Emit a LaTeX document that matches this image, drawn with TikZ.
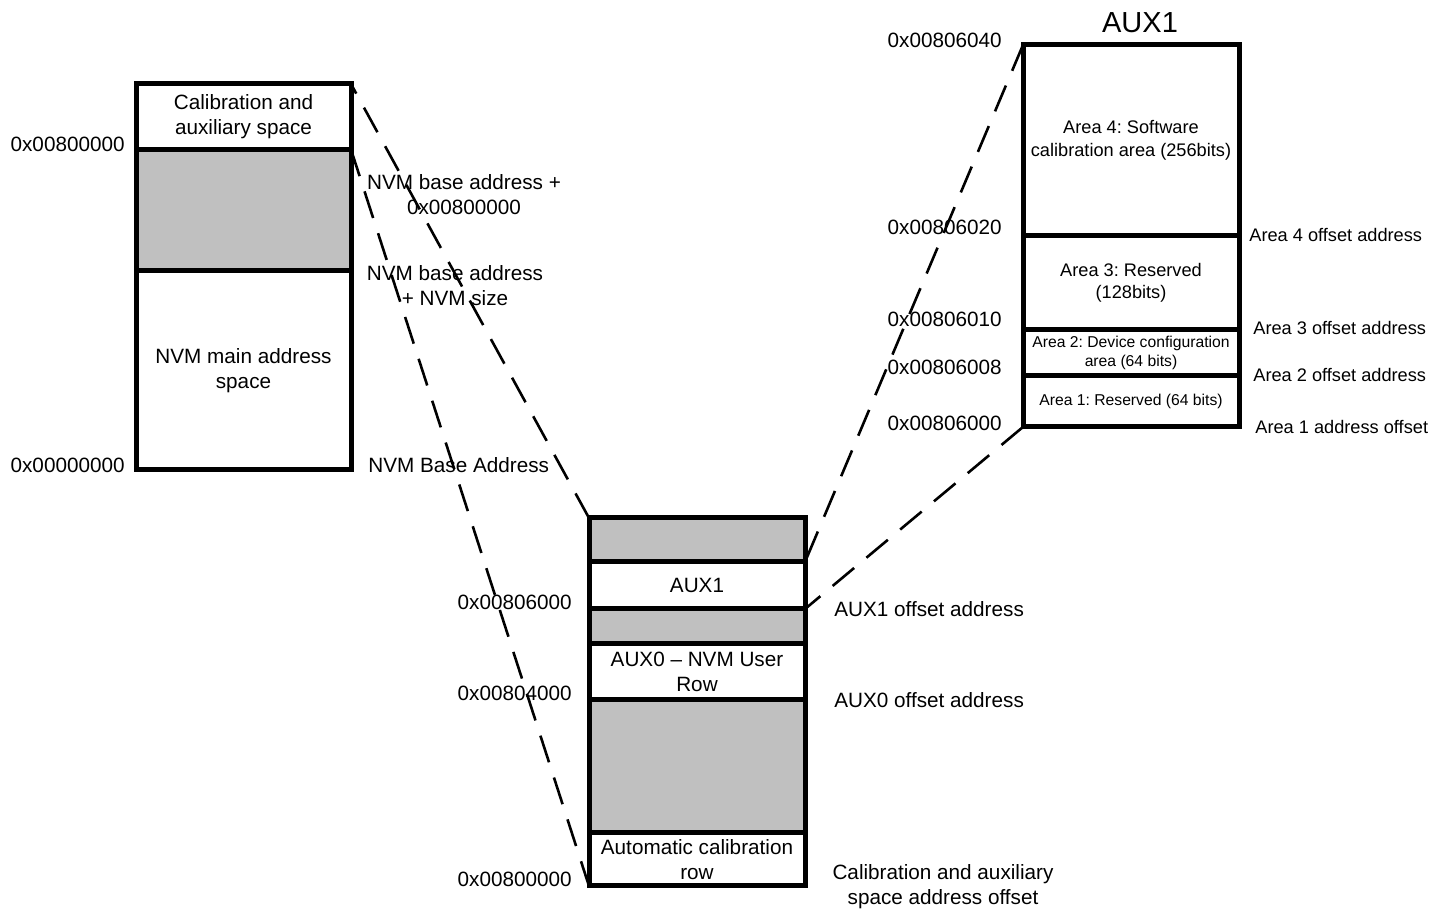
\documentclass[tikz,border=0pt]{standalone}
\usepackage{fontspec}
\setmainfont{Liberation Sans}
\usetikzlibrary{positioning}
\definecolor{rsvdgray}{HTML}{C0C0C0}
\frenchspacing
\newcommand\fmain{\fontsize{10.35}{12.5}\selectfont}
\newcommand\farea{\fontsize{9.1}{11.2}\selectfont}
\newcommand\fsmall{\fontsize{7.85}{9.5}\selectfont}
\newcommand\ftitle{\fontsize{14.5}{17}\selectfont}

\begin{document}
\begin{tikzpicture}[x=0.5pt, y=-0.5pt, line join=miter,
    cell/.style={draw, line width=2.5pt, outer sep=0pt, inner sep=0pt, align=center, font=\fmain, minimum width=#1*0.5pt},
    tall/.style={minimum height=#1*0.5pt},
    rsvd/.style={fill=rsvdgray},
    lbl/.style={inner sep=0pt, align=center, font=\fmain},
    link/.style={line width=1.3pt, dash pattern=on 14pt off 8pt},
    node distance=0pt]
    \useasboundingbox (0,0) rectangle (1442,913);

    % NVM address space
    \node[cell=215, tall=65.5] (calib) at (243.5,116.75) {Calibration and\\auxiliary space};
    \node[cell=215, tall=121, rsvd, below=of calib] (nvmgap) {};
    \node[cell=215, tall=199.5, below=of nvmgap] (nvmmain) {NVM main address\\space};

    \node[lbl, anchor=east] (acal) at (125,144) {0x00800000};
    \node[lbl, anchor=east] (azero) at (125,465) {0x00000000};
    \node[lbl] (ncal) at (464,195) {NVM base address +\\0x00800000};
    \node[lbl] (nend) at (455,286) {NVM base address\\+ NVM size};
    \node[lbl, anchor=west] (nbase) at (368,465) {NVM Base Address};

    % calibration and auxiliary space
    \node[cell=216, tall=44, rsvd] (hirsvd) at (697,540) {};
    \node[cell=216, tall=47, below=of hirsvd] (aux1row) {AUX1};
    \node[cell=216, tall=35, rsvd, below=of aux1row] (midrsvd) {};
    \node[cell=216, tall=56, below=of midrsvd] (aux0row) {AUX0 -- NVM User\\Row};
    \node[cell=216, tall=133, rsvd, below=of aux0row] (lorsvd) {};
    \node[cell=216, tall=53, below=of lorsvd] (autocal) {Automatic calibration\\row};

    \node[lbl, anchor=east] (aaux1) at (572,602) {0x00806000};
    \node[lbl, anchor=east] (aaux0) at (572,693) {0x00804000};
    \node[lbl, anchor=east] (aauto) at (572,879) {0x00800000};
    \node[lbl, anchor=west] (oaux1) at (834,609) {AUX1 offset address};
    \node[lbl, anchor=west] (oaux0) at (834,700) {AUX0 offset address};
    \node[lbl] (oauto) at (943,886.5) {Calibration and auxiliary\\space address offset};

    % AUX1 detail
    \node[lbl, font=\ftitle] (auxtitle) at (1140,23) {AUX1};
    \node[cell=216, tall=191, font=\farea] (area4) at (1131,140.5) {Area 4: Software\\calibration area (256bits)};
    \node[cell=216, tall=94, font=\farea, below=of area4] (area3) {Area 3: Reserved\\(128bits)};
    \node[cell=216, tall=46, font=\fsmall, below=of area3] (area2) {Area 2: Device configuration\\area (64 bits)};
    \node[cell=216, tall=51, font=\fsmall, below=of area2] (area1) {Area 1: Reserved (64 bits)};

    \node[lbl, anchor=east] (a40) at (1002,40) {0x00806040};
    \node[lbl, anchor=east] (a20) at (1002,227) {0x00806020};
    \node[lbl, anchor=east] (a10) at (1002,319) {0x00806010};
    \node[lbl, anchor=east] (a08) at (1002,367) {0x00806008};
    \node[lbl, anchor=east] (a00) at (1002,423) {0x00806000};
    \node[lbl, font=\farea, anchor=west] (o4) at (1249,235) {Area 4 offset address};
    \node[lbl, font=\farea, anchor=west] (o3) at (1253,328) {Area 3 offset address};
    \node[lbl, font=\farea, anchor=west] (o2) at (1253,375) {Area 2 offset address};
    \node[lbl, font=\farea, anchor=west] (o1) at (1255,427) {Area 1 address offset};

    % zoom lines
    \draw[link] (hirsvd.north west) -- (calib.north east);
    \draw[link] (calib.south east) -- (autocal.south west);
    \draw[link] (area4.north west) -- (hirsvd.south east);
    \draw[link] (area1.south west) -- (aux1row.south east);
\end{tikzpicture}
\end{document}
